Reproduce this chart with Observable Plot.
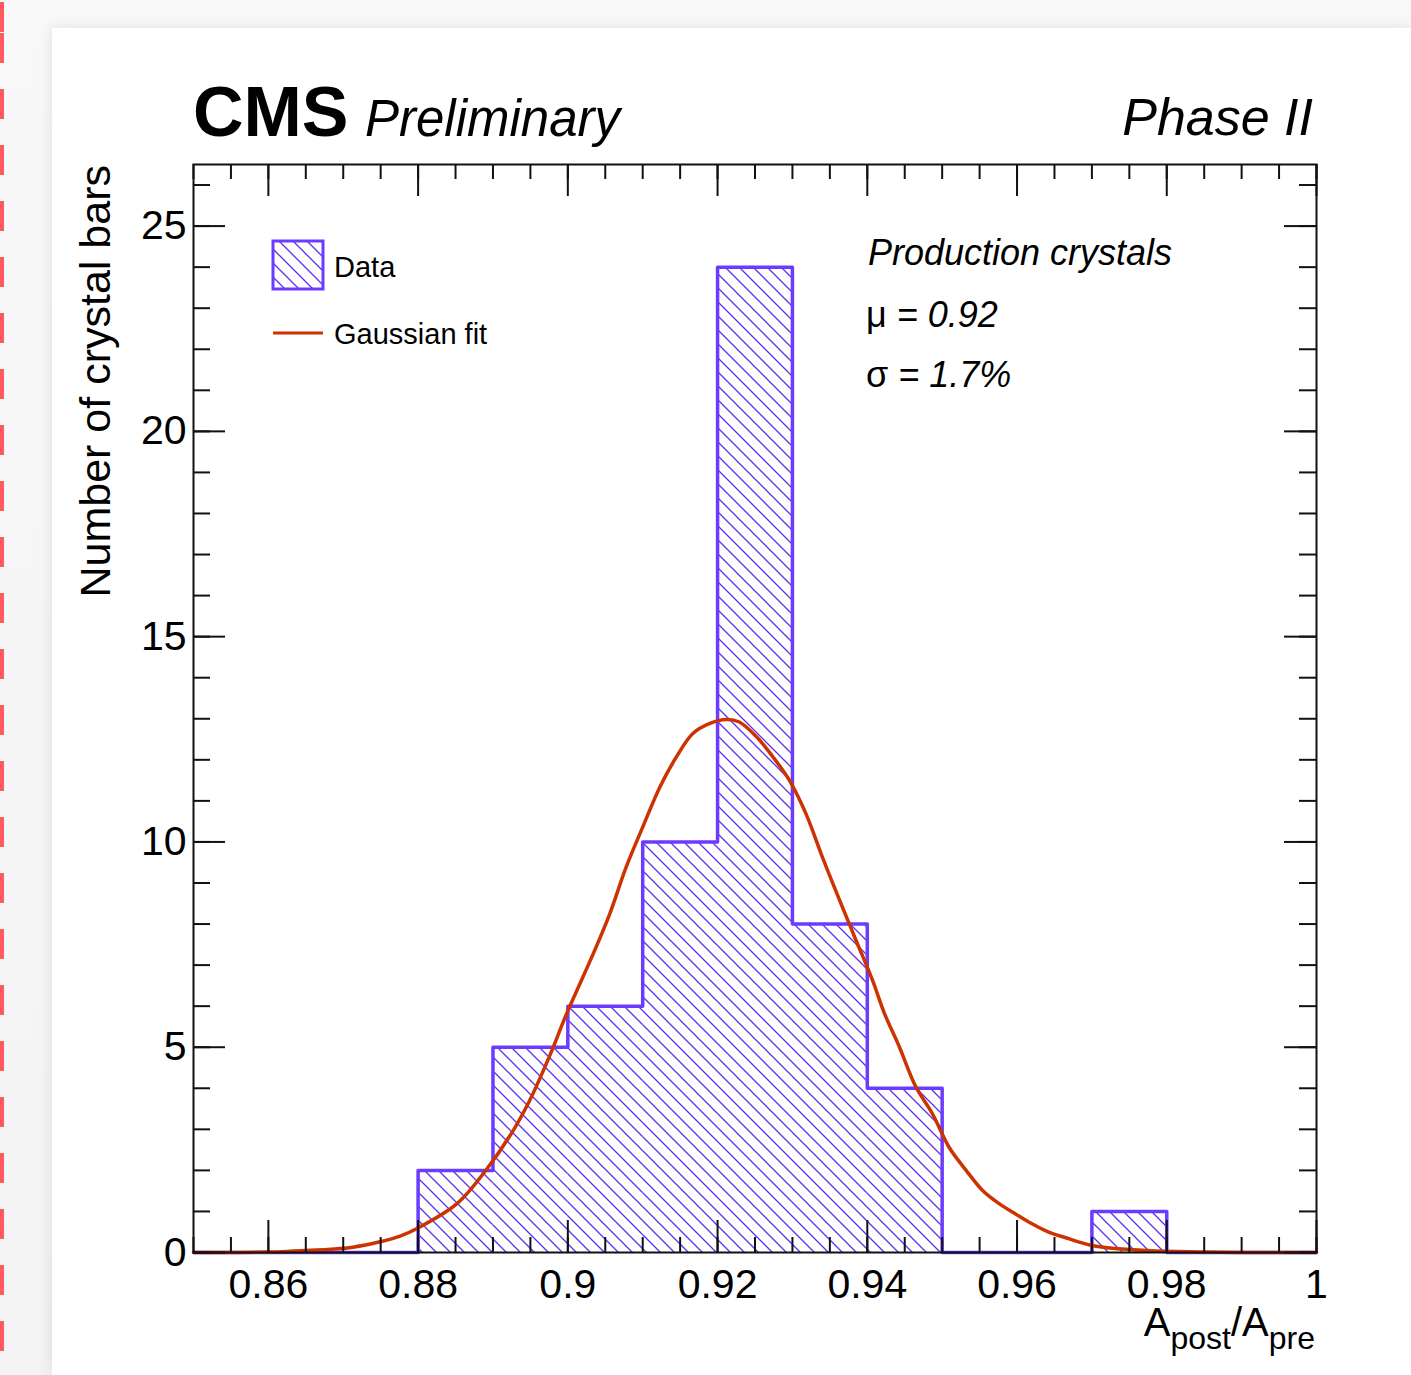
<!DOCTYPE html>
<html>
<head>
<meta charset="utf-8">
<script src="https://cdn.jsdelivr.net/npm/d3@7"></script>
<script src="https://cdn.jsdelivr.net/npm/@observablehq/plot@0.6"></script>
<style>
  html, body { margin: 0; padding: 0; }
  body {
    width: 1411px; height: 1375px; overflow: hidden; position: relative;
    background: linear-gradient(#f8f8f8, #f3f3f3);
    font-family: "Liberation Sans", Arial, sans-serif;
  }
  #redline {
    position: absolute; left: 0; top: 0; width: 4px; height: 1375px;
    background: repeating-linear-gradient(to bottom, #ff5a5f 0px, #ff5a5f 30px, transparent 30px, transparent 56px);
    background-position: 0 33px;
  }
  #card {
    position: absolute; left: 52px; top: 28px; width: 1359px; height: 1347px;
    background: white; box-shadow: 0 0 14px rgba(0,0,0,0.10);
  }
  #card svg { display: block; }
</style>
</head>
<body>
<div id="redline"></div>
<div id="card"></div>
<script>
// ---- Data ----
const binLow  = [0.85, 0.86, 0.87, 0.88, 0.89, 0.90, 0.91, 0.92, 0.93, 0.94, 0.95, 0.96, 0.97, 0.98, 0.99];
const binHigh = [0.86, 0.87, 0.88, 0.89, 0.90, 0.91, 0.92, 0.93, 0.94, 0.95, 0.96, 0.97, 0.98, 0.99, 1.00];
const counts  = [0, 0, 0, 2, 5, 6, 10, 24, 8, 4, 0, 0, 1, 0, 0];

// Gaussian fit curve
const fitX = [0.85, 0.855, 0.86, 0.8629, 0.8683, 0.8713, 0.8749, 0.8776, 0.8798, 0.8852, 0.8892, 0.8927, 0.8949, 0.8976, 0.8998,
  0.9034, 0.9056, 0.9078, 0.9100, 0.9123, 0.9145, 0.9167, 0.9189, 0.9212, 0.9229, 0.9252, 0.9274, 0.9296, 0.9318, 0.9340,
  0.9363, 0.9385, 0.9407, 0.9423, 0.9443, 0.9465, 0.9487, 0.9509, 0.9532, 0.9554, 0.9576, 0.9598, 0.9620, 0.9643, 0.9665,
  0.9700, 0.9736, 0.978, 0.985, 0.99, 1.0];
const fitY = [0, 0, 0.01, 0.03, 0.08, 0.13, 0.26, 0.40, 0.58, 1.19, 2.04, 2.97, 3.70, 4.80, 5.80,
  7.28, 8.25, 9.39, 10.36, 11.34, 12.07, 12.64, 12.88, 12.98, 12.92, 12.56, 12.07, 11.50, 10.69, 9.63,
  8.58, 7.60, 6.63, 5.82, 5.00, 4.03, 3.38, 2.57, 2.00, 1.51, 1.19, 0.94, 0.70, 0.49, 0.36,
  0.17, 0.09, 0.04, 0.01, 0, 0];

const xMajorTicks = [0.86, 0.88, 0.9, 0.92, 0.94, 0.96, 0.98, 1];
const yMajorTicks = [0, 5, 10, 15, 20, 25];
const xMinorTicks = d3.range(0, 31).map(i => 0.85 + i * 0.005);
const yMinorTicks = d3.range(0, 27);

const xDomain = [0.85, 1.0];
const yDomain = [0, 26.5];

const titleCMS = "CMS";
const titlePrelim = "Preliminary";
const titleRight = "Phase II";
const yTitle = "Number of crystal bars";
const legendData = "Data";
const legendFit = "Gaussian fit";
const infoLines = ["Production crystals"];

// ---- Build tables ----
const bins = binLow.map((lo, i) => ({lo, hi: binHigh[i], n: counts[i]}));
const stepPts = bins.map(b => ({x: b.lo, y: b.n})).concat([{x: binHigh[binHigh.length - 1], y: counts[counts.length - 1]}]);
const fit = fitX.map((x, i) => ({x, y: fitY[i]}));

const W = 1359, H = 1347;
const mL = 141, mR = 95, mT = 136, mB = 123;
const fw = W - mL - mR, fh = H - mT - mB;

const purple = "#6b3cff";
const red = "#cc3300";
const font = "'Liberation Sans', Arial, Helvetica, sans-serif";

const plot = Plot.plot({
  width: W, height: H,
  marginLeft: mL, marginRight: mR, marginTop: mT, marginBottom: mB,
  style: {fontFamily: font, background: "white", color: "black", overflow: "visible"},
  x: {domain: xDomain, label: null},
  y: {domain: yDomain, label: null},
  marks: [
    Plot.rectY(bins, {x1: "lo", x2: "hi", y1: 0, y2: "n", fill: "url(#hatch)"}),
    Plot.line(stepPts, {x: "x", y: "y", curve: "step-after", stroke: purple, strokeWidth: 3.5}),
    Plot.line(fit, {x: "x", y: "y", curve: "catmull-rom", stroke: red, strokeWidth: 3.5}),
    // ticks: bottom & top (inside)
    Plot.tickX(xMajorTicks, {x: d => d, insetTop: fh - 32, stroke: "#111", strokeWidth: 2}),
    Plot.tickX(xMinorTicks, {x: d => d, insetTop: fh - 15, stroke: "#111", strokeWidth: 2}),
    Plot.tickX(xMajorTicks, {x: d => d, insetBottom: fh - 32, stroke: "#111", strokeWidth: 2}),
    Plot.tickX(xMinorTicks, {x: d => d, insetBottom: fh - 15, stroke: "#111", strokeWidth: 2}),
    // ticks: left & right (inside)
    Plot.tickY(yMajorTicks, {y: d => d, insetRight: fw - 32, stroke: "#111", strokeWidth: 2}),
    Plot.tickY(yMinorTicks, {y: d => d, insetRight: fw - 17, stroke: "#111", strokeWidth: 2}),
    Plot.tickY(yMajorTicks, {y: d => d, insetLeft: fw - 32, stroke: "#111", strokeWidth: 2}),
    Plot.tickY(yMinorTicks, {y: d => d, insetLeft: fw - 17, stroke: "#111", strokeWidth: 2}),
    Plot.axisX(xMajorTicks, {anchor: "bottom", tickSize: 0, tickPadding: 16, fontSize: 41, tickFormat: d => String(d), label: null, fill: "black"}),
    Plot.axisY(yMajorTicks, {anchor: "left", tickSize: 0, tickPadding: 7, fontSize: 41, tickFormat: d => String(d), label: null, fill: "black"}),
    Plot.frame({stroke: "#111", strokeWidth: 2})
  ]
});

const svg = d3.select(plot);
// hatch pattern
const defs = svg.insert("defs", ":first-child");
const pat = defs.append("pattern").attr("id", "hatch").attr("patternUnits", "userSpaceOnUse")
  .attr("width", 14).attr("height", 14);
pat.append("path").attr("d", "M0,0L14,14M-7,7L7,21M7,-7L21,7")
  .attr("stroke", "#5b2ff0").attr("stroke-width", 1.3).attr("fill", "none");

const ann = svg.append("g").attr("font-family", font).attr("fill", "black").attr("text-anchor", "start");
// CMS Preliminary
ann.append("text").attr("x", 141).attr("y", 108).attr("font-size", 70).attr("font-weight", "bold").text(titleCMS);
ann.append("text").attr("x", 313).attr("y", 108).attr("font-size", 51).attr("font-style", "italic").text(titlePrelim);
ann.append("text").attr("x", 1261).attr("y", 107).attr("font-size", 52).attr("font-style", "italic").attr("text-anchor", "end").text(titleRight);
// Y title
ann.append("text").attr("transform", "translate(58,137) rotate(-90)").attr("text-anchor", "end")
  .attr("font-size", 43).text(yTitle);
// X title A_post/A_pre
const xt = ann.append("text").attr("x", 1263).attr("y", 1308).attr("text-anchor", "end").attr("font-size", 40);
xt.append("tspan").text("A");
xt.append("tspan").attr("font-size", 32).attr("dy", 13).text("post");
xt.append("tspan").attr("dy", -13).text("/A");
xt.append("tspan").attr("font-size", 32).attr("dy", 13).text("pre");
// Legend
ann.append("rect").attr("x", 221).attr("y", 213).attr("width", 50).attr("height", 48)
  .attr("fill", "url(#hatch)").attr("stroke", purple).attr("stroke-width", 3);
ann.append("text").attr("x", 282).attr("y", 249).attr("font-size", 29).text(legendData);
ann.append("line").attr("x1", 221).attr("x2", 271).attr("y1", 305).attr("y2", 305)
  .attr("stroke", red).attr("stroke-width", 3);
ann.append("text").attr("x", 282).attr("y", 316).attr("font-size", 29).text(legendFit);
// Info text
ann.append("text").attr("x", 816).attr("y", 237).attr("font-size", 36).attr("font-style", "italic").text(infoLines[0]);
const mu = ann.append("text").attr("x", 814).attr("y", 299).attr("font-size", 36);
mu.append("tspan").text("μ");
mu.append("tspan").attr("font-style", "italic").text(" = 0.92");
const sg = ann.append("text").attr("x", 814).attr("y", 359).attr("font-size", 36);
sg.append("tspan").text("σ");
sg.append("tspan").attr("font-style", "italic").text(" = 1.7%");

document.getElementById("card").appendChild(plot);
</script>
</body>
</html>
